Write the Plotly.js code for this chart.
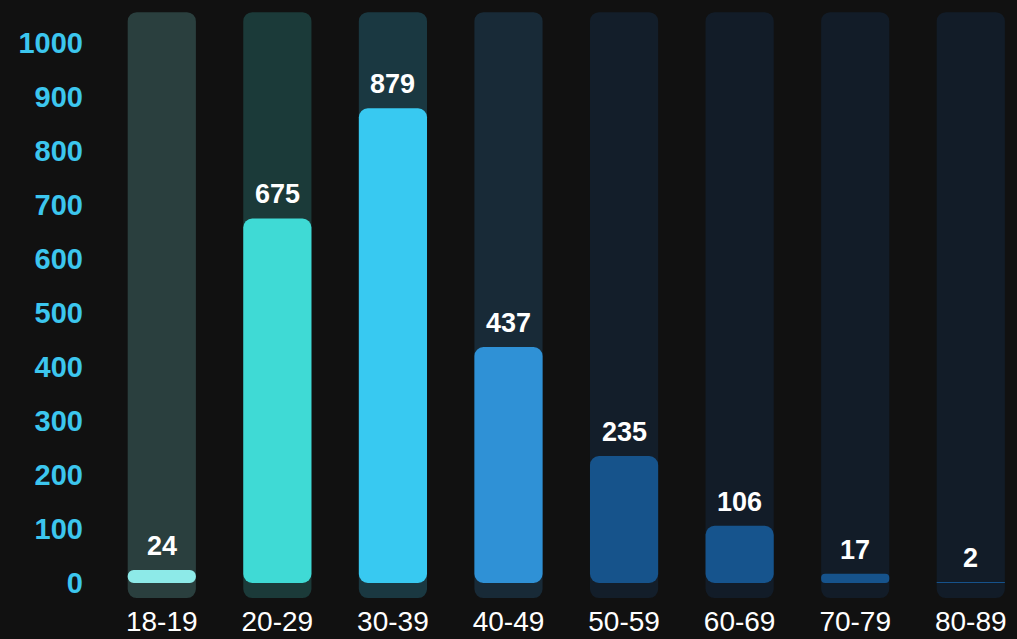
<!DOCTYPE html>
<html>
<head>
<meta charset="utf-8">
<script src="https://cdn.plot.ly/plotly-3.0.1.min.js"></script>
<style>html,body{margin:0;padding:0;background:#111111;}#chart{width:1017px;height:639px;}</style>
</head>
<body>
<div id="chart"></div>
<script>
const categories = ['18-19','20-29','30-39','40-49','50-59','60-69','70-79','80-89'];
const values = [24, 675, 879, 437, 235, 106, 17, 2];
const trackTop = 1057;
const trackBase = -28;
const yTicks = [0,100,200,300,400,500,600,700,800,900,1000];
const barColors = ['#8deae8','#3fdad5','#38c9f1','#2f91d6','#16538b','#16548d','#16538c','#16528b'];
const trackColors = ['#2a3f3e','#1b3a39','#1a3841','#182a37','#131e2a','#121c28','#121c28','#121c28'];

const x = categories.map((c,i)=>i);
const traces = [
  {
    type:'bar', x:x, y:categories.map(()=>trackTop - trackBase), base:categories.map(()=>trackBase),
    width:0.59, offset:-0.295, marker:{color:trackColors, cornerradius:9, line:{width:0}}, hoverinfo:'skip', showlegend:false
  },
  {
    type:'bar', x:x, y:values, base:categories.map(()=>0), width:0.59, offset:-0.295,
    marker:{color:barColors, cornerradius:9, line:{width:0}}, showlegend:false
  }
];
const annotations = values.map((v,i)=>({
  x:i, y:v, xref:'x', yref:'y', text:String(v), showarrow:false,
  yanchor:'bottom', yshift:7,
  font:{family:'Liberation Sans, Arial, sans-serif', size:27, color:'#ffffff', weight:'bold'}
}));
const layout = {
  width:1017, height:639,
  paper_bgcolor:'#111111', plot_bgcolor:'#111111',
  margin:{l:104, r:0, t:0, b:39},
  barmode:'group',
  annotations:annotations,
  xaxis:{
    range:[-0.5, 7.4], tickmode:'array', tickvals:x, ticktext:categories,
    showgrid:false, zeroline:false, showline:false, ticks:'',
    ticklabelstandoff:2,
    tickfont:{family:'Liberation Sans, Arial, sans-serif', size:28, color:'#ffffff'}
  },
  yaxis:{
    range:[-31.5, 1079.6], tickmode:'array', tickvals:yTicks,
    showgrid:false, zeroline:false, showline:false, ticks:'',
    ticklabelstandoff:20,
    tickfont:{family:'Liberation Sans, Arial, sans-serif', size:29, color:'#3cc6ee', weight:'bold'}
  }
};
Plotly.newPlot('chart', traces, layout, {displayModeBar:false, staticPlot:true});
</script>
</body>
</html>
